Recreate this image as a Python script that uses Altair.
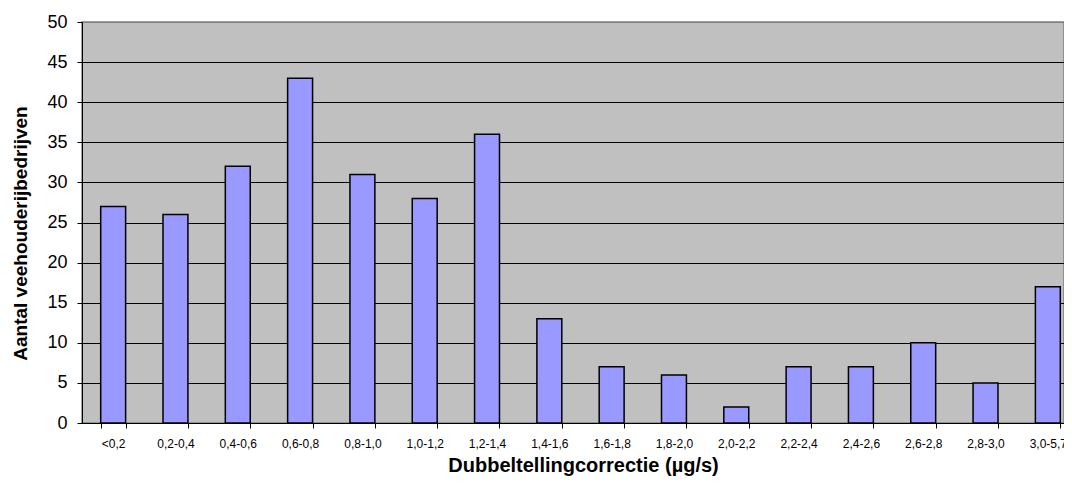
import altair as alt
import pandas as pd

categories = ["<0,2", "0,2-0,4", "0,4-0,6", "0,6-0,8", "0,8-1,0", "1,0-1,2", "1,2-1,4",
              "1,4-1,6", "1,6-1,8", "1,8-2,0", "2,0-2,2", "2,2-2,4", "2,4-2,6", "2,6-2,8",
              "2,8-3,0", "3,0-5,7"]
counts = [27, 26, 32, 43, 31, 28, 36, 13, 7, 6, 2, 7, 7, 10, 5, 17]
y_ticks = [0, 5, 10, 15, 20, 25, 30, 35, 40, 45, 50]

df = pd.DataFrame({"cat": categories, "val": counts})

FONT = "Liberation Sans"

chart = alt.Chart(df).mark_bar(
    color="#9999FF", stroke="black", strokeWidth=1.5
).encode(
    x=alt.X(
        "cat:N", sort=categories,
        scale=alt.Scale(paddingInner=0.6, paddingOuter=0.3, range=[0, 997]),
        axis=alt.Axis(
            title="Dubbeltellingcorrectie (µg/s)", labelAngle=0, tickBand="extent",
            grid=False, labelFont=FONT, labelFontSize=12, labelColor="black",
            labelPadding=10, tickSize=5, tickColor="black", domainColor="black",
            labelOverlap=False,
            titleFont=FONT, titleFontSize=20, titleFontWeight="bold", titleColor="black",
            titleX=501, titleY=48, titleBaseline="alphabetic", titleAlign="center",
        ),
    ),
    y=alt.Y(
        "val:Q",
        scale=alt.Scale(domain=[0, 50], nice=False),
        axis=alt.Axis(
            title="Aantal veehouderijbedrijven", values=y_ticks, grid=True,
            gridColor={"condition": {"test": "datum.value === 50", "value": "#808080"}, "value": "black"},
            gridWidth=1, gridOpacity=1,
            labelFont=FONT, labelFontSize=18, labelColor="black", labelPadding=10,
            tickSize=5, tickColor="black", domainColor="black",
            titleFont=FONT, titleFontSize=19, titleFontWeight="bold", titleColor="black",
            titleX=-62, titleY=211, titleBaseline="middle", titleAlign="center",
        ),
    ),
).properties(
    width=982, height=401,
    background="white",
    autosize=alt.AutoSizeParams(type="none"),
    padding={"left": 74, "top": 14, "right": 0, "bottom": 54},
).configure_view(
    fill="#C0C0C0", stroke="#808080", strokeWidth=1.5
)

chart.save("out.html", embed_options={"renderer": "svg", "actions": False})
